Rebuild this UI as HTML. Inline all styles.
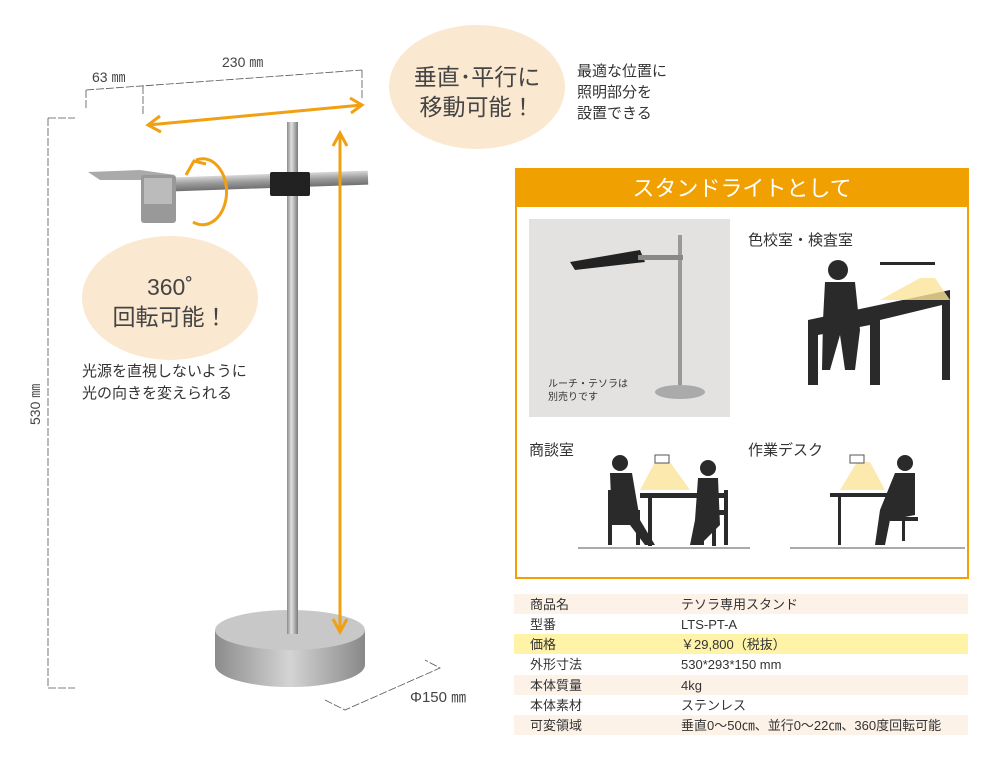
<!DOCTYPE html>
<html><head><meta charset="utf-8"><style>
body{margin:0;width:1000px;height:768px;background:#fff;overflow:hidden;font-family:"Liberation Sans","Noto Sans CJK JP",sans-serif;}
svg text{font-family:"Liberation Sans","Noto Sans CJK JP",sans-serif;}
</style></head><body>
<svg width="1000" height="768" viewBox="0 0 1000 768" xmlns="http://www.w3.org/2000/svg">
<defs>
<linearGradient id="pole" x1="0" x2="1"><stop offset="0" stop-color="#8a8a8a"/><stop offset=".4" stop-color="#e0e0e0"/><stop offset="1" stop-color="#7a7a7a"/></linearGradient>
<linearGradient id="bar" x1="0" y1="0" x2="0" y2="1"><stop offset="0" stop-color="#d8d8d8"/><stop offset=".5" stop-color="#9a9a9a"/><stop offset="1" stop-color="#707070"/></linearGradient>
<linearGradient id="base" x1="0" x2="1"><stop offset="0" stop-color="#8c8c8c"/><stop offset=".5" stop-color="#d4d4d4"/><stop offset="1" stop-color="#888"/></linearGradient>
</defs>
<g stroke="#555" stroke-width="0.8" fill="none" stroke-dasharray="8,2">
<path d="M86 90 L362 70"/><path d="M86 90 L86 110"/><path d="M143 86 L143 115"/><path d="M362 70 L362 98"/>
<path d="M48 118 L75 118 M48 118 L48 688 M48 688 L75 688"/>
<path d="M325 700 L345 710 L440 668 L425 660"/>
</g>
<text x="92" y="82" font-size="14" fill="#444">63 ㎜</text>
<text x="222" y="67" font-size="14" fill="#444">230 ㎜</text>
<text x="40" y="425" font-size="14" fill="#444" transform="rotate(-90 40 425)">530 ㎜</text>
<text x="410" y="702" font-size="15" fill="#444">Φ150 ㎜</text>
<ellipse cx="477" cy="87" rx="88" ry="62" fill="#fbe8d1"/>
<text x="477" y="85" font-size="23" fill="#444" text-anchor="middle">垂直･平行に</text>
<text x="477" y="115" font-size="23" fill="#444" text-anchor="middle">移動可能！</text>
<ellipse cx="170" cy="298" rx="88" ry="62" fill="#fbe8d1"/>
<text x="170" y="295" font-size="23" fill="#444" text-anchor="middle">360˚</text>
<text x="170" y="325" font-size="23" fill="#444" text-anchor="middle">回転可能！</text>
<text x="577" y="76" font-size="15" fill="#333">最適な位置に</text>
<text x="577" y="97" font-size="15" fill="#333">照明部分を</text>
<text x="577" y="118" font-size="15" fill="#333">設置できる</text>
<text x="82" y="376" font-size="15" fill="#333">光源を直視しないように</text>
<text x="82" y="398" font-size="15" fill="#333">光の向きを変えられる</text>
<ellipse cx="290" cy="665" rx="75" ry="22" fill="url(#base)"/>
<rect x="215" y="630" width="150" height="35" fill="url(#base)"/>
<ellipse cx="290" cy="630" rx="75" ry="20" fill="#c8c8c8"/>
<rect x="287" y="122" width="11" height="512" fill="url(#pole)"/>
<rect x="170" y="174" width="198" height="14" fill="url(#bar)" transform="rotate(-2 270 180)"/>
<rect x="270" y="172" width="40" height="24" rx="2" fill="#222"/>
<path d="M88 172 L140 170 L175 175 L150 180 L100 180 Z" fill="#aaa"/>
<rect x="141" y="175" width="35" height="48" rx="3" fill="#999"/>
<rect x="144" y="178" width="28" height="26" fill="#bbb"/>
<g stroke="#f0a010" stroke-width="3" fill="none">
<path d="M148 125 L362 105"/><path d="M160 116 L148 125 L161 132"/><path d="M350 98 L362 105 L351 113"/>
<path d="M340 133 L340 632"/><path d="M333 146 L340 133 L347 146"/><path d="M333 619 L340 632 L347 619"/>
<path d="M196 160 A24 33 0 1 1 193 222"/>
<path d="M186 175 L194 161 L206 164"/>
</g>
<rect x="516" y="169" width="452" height="409" fill="#fff" stroke="#f0a000" stroke-width="2"/>
<rect x="516" y="169" width="452" height="38" fill="#f0a000"/>
<text x="742" y="196" font-size="22" fill="#fff" text-anchor="middle">スタンドライトとして</text>
<rect x="529" y="219" width="201" height="198" fill="#e4e2e0"/>
<rect x="678" y="235" width="4" height="155" fill="#999"/>
<ellipse cx="680" cy="392" rx="25" ry="7" fill="#aaa"/>
<path d="M570 262 L640 250 L645 262 L575 270 Z" fill="#222"/>
<rect x="638" y="255" width="45" height="5" fill="#888"/>
<text x="548" y="387" font-size="10" fill="#333">ルーチ・テソラは</text>
<text x="548" y="400" font-size="10" fill="#333">別売りです</text>
<text x="748" y="245" font-size="15" fill="#333">色校室・検査室</text>
<text x="529" y="455" font-size="15" fill="#333">商談室</text>
<text x="748" y="455" font-size="15" fill="#333">作業デスク</text>
<g fill="#2a2a2a">
<path d="M808 320 L950 290 L950 380 L942 380 L942 305 L880 320 L880 385 L870 385 L870 325 L818 335 L818 385 L808 385 Z"/>
<circle cx="838" cy="270" r="10"/><path d="M825 282 L855 282 L860 330 L855 370 L845 370 L840 335 L830 370 L822 370 L823 320 Z"/>
<rect x="880" y="262" width="55" height="3"/>
<circle cx="620" cy="463" r="8"/><path d="M610 473 L632 473 L640 520 L655 545 L645 545 L630 525 L612 525 Z"/>
<rect x="640" y="493" width="85" height="5"/><rect x="648" y="498" width="4" height="48"/><rect x="712" y="498" width="4" height="48"/>
<circle cx="708" cy="468" r="8"/><path d="M698 478 L718 478 L720 525 L700 545 L690 545 L695 520 Z"/>
<path d="M608 490 L612 490 L612 510 L640 510 L640 545 L636 545 L636 515 L612 515 L612 545 L608 545 Z"/>
<path d="M728 490 L724 490 L724 510 L700 510 L700 545 L704 545 L704 515 L724 515 L724 545 L728 545 Z"/>
<rect x="830" y="493" width="85" height="4"/><rect x="838" y="497" width="3" height="48"/>
<circle cx="905" cy="463" r="8"/><path d="M895 473 L915 473 L915 515 L890 520 L885 545 L875 545 L880 510 Z"/>
<rect x="890" y="517" width="28" height="4"/><rect x="902" y="521" width="3" height="20"/>
</g>
<path d="M655 462 L640 490 L690 490 L670 462 Z" fill="#fbe39a" opacity=".8"/>
<path d="M857 462 L840 490 L885 490 L870 462 Z" fill="#fbe39a" opacity=".8"/>
<path d="M920 278 L880 300 L950 300 L935 278 Z" fill="#fbe39a" opacity=".8"/>
<rect x="655" y="455" width="14" height="8" fill="#fff" stroke="#555"/>
<rect x="850" y="455" width="14" height="8" fill="#fff" stroke="#555"/>
<g stroke="#555" stroke-width="1"><path d="M578 548 L750 548 M790 548 L965 548"/></g>
<g font-size="13" fill="#333">
<rect x="514" y="594" width="454" height="20" fill="#fdf2e8"/>
<rect x="514" y="634" width="454" height="20" fill="#fef3a6"/>
<rect x="514" y="675" width="454" height="20" fill="#fdf2e8"/>
<rect x="514" y="715" width="454" height="20" fill="#fdf2e8"/>
<text x="530" y="609">商品名</text><text x="681" y="609">テソラ専用スタンド</text>
<text x="530" y="629">型番</text><text x="681" y="629">LTS-PT-A</text>
<text x="530" y="649">価格</text><text x="681" y="649">￥29,800（税抜）</text>
<text x="530" y="669">外形寸法</text><text x="681" y="669">530*293*150 mm</text>
<text x="530" y="690">本体質量</text><text x="681" y="690">4kg</text>
<text x="530" y="710">本体素材</text><text x="681" y="710">ステンレス</text>
<text x="530" y="730">可変領域</text><text x="681" y="730">垂直0～50㎝、並行0～22㎝、360度回転可能</text>
</g>
</svg>
</body></html>
